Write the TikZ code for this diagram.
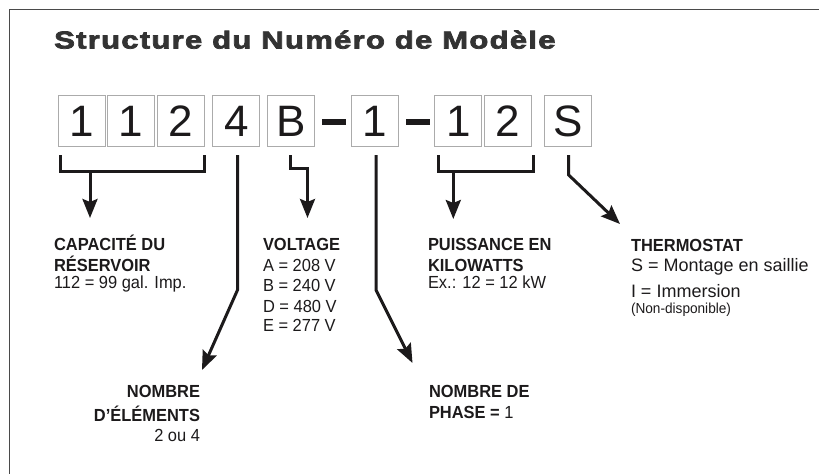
\documentclass[tikz,border=0pt]{standalone}
\usepackage{fontspec}
\setmainfont{Liberation Sans}
\newfontfamily\titlefont[FakeStretch=1.27,LetterSpace=5,FakeBold=3]{Liberation Sans Bold}
\newfontfamily\lblfont[FakeStretch=0.94]{Liberation Sans}
\usetikzlibrary{arrows.meta}
\definecolor{ink}{HTML}{1C1A1B}
\definecolor{titlegray}{HTML}{333333}
\definecolor{boxgray}{HTML}{ABABAB}
\definecolor{framegray}{HTML}{4A4A4A}
\tikzset{
  digitbox/.style={draw=boxgray, line width=1pt, minimum width=47pt, minimum height=51pt,
    inner sep=0pt, outer sep=0pt, text=ink, font=\fontsize{44}{44}\selectfont},
  lbl/.style={inner sep=0pt, outer sep=0pt, text=ink, font=\lblfont\fontsize{17.5}{19}\selectfont},
  lblb/.style={lbl, font=\lblfont\fontsize{17.5}{19}\selectfont\bfseries},
  conn/.style={draw=ink, line width=3pt, line join=miter},
  arr/.style={conn, -{Stealth[length=19pt,width=15pt,inset=3pt]}}
}
\begin{document}
\begin{tikzpicture}[x=1pt,y=-1pt]
\useasboundingbox (0,0) rectangle (819,474);
% frame
\draw[framegray, line width=1.6pt] (819,9.5) -- (9.5,9.5) -- (9.5,474);
% title
\node[anchor=base west, inner sep=0pt, text=titlegray, font=\titlefont\fontsize{24.5}{26}\selectfont] (title) at (54,48.5) {Structure du Numéro de Modèle};
% boxes
\node[digitbox] (b1) at (81.7,121.2) {1};
\node[digitbox] (b2) at (131,121.2) {1};
\node[digitbox] (b3) at (181,121.2) {2};
\node[digitbox] (b4) at (236.3,121.2) {4};
\node[digitbox] (b5) at (291.3,121.2) {B};
\node[digitbox] (b6) at (374.7,121.2) {1};
\node[digitbox] (b7) at (458.3,121.2) {1};
\node[digitbox] (b8) at (507.7,121.2) {2};
\node[digitbox] (b9) at (568,121.2) {S};
% dashes
\fill[ink] (322,119) rectangle (346,124.6);
\fill[ink] (406,119) rectangle (430,124.6);
% coordinates
\coordinate (capL) at (60,155);
\coordinate (capR) at (204,155);
\coordinate (capS) at (90,171);
\coordinate (capT) at (90,218);
\coordinate (elA) at (237.5,155);
\coordinate (elB) at (237.5,290);
\coordinate (elT) at (202,370);
\coordinate (voA) at (290,155);
\coordinate (voB) at (307.5,168.3);
\coordinate (voT) at (307.5,218);
\coordinate (phA) at (376,155);
\coordinate (phB) at (376,290);
\coordinate (phT) at (412.5,363);
\coordinate (kwL) at (438.7,155);
\coordinate (kwR) at (533.3,155);
\coordinate (kwS) at (453.3,171);
\coordinate (kwT) at (453.3,219);
\coordinate (thA) at (568.7,155);
\coordinate (thB) at (568.7,175);
\coordinate (thT) at (620,224);
% connectors
\draw[conn] (capL) -- (capL |- capS) -- (capR |- capS) -- (capR);
\draw[arr] (capS) -- (capT);
\draw[arr] (elA) -- (elB) -- (elT);
\draw[arr] (voA) -- (voA |- voB) -- (voB) -- (voT);
\draw[arr] (phA) -- (phB) -- (phT);
\draw[conn] (kwL) -- (kwL |- kwS) -- (kwR |- kwS) -- (kwR);
\draw[arr] (kwS) -- (kwT);
\draw[arr] (thA) -- (thB) -- (thT);
% labels: capacity
\node[lblb, anchor=base west] (cap1) at (54,250) {CAPACITÉ DU};
\node[lblb, anchor=base west] (cap2) at (54,271) {RÉSERVOIR};
\node[lbl, anchor=base west] (cap3) at (54,288.5) {112 = 99 gal. Imp.};
% voltage
\node[lblb, anchor=base west] (vo1) at (263,250) {VOLTAGE};
\node[lbl, anchor=base west] (vo2) at (263,271.7) {A = 208 V};
\node[lbl, anchor=base west] (vo3) at (263,291.7) {B = 240 V};
\node[lbl, anchor=base west] (vo4) at (263,312) {D = 480 V};
\node[lbl, anchor=base west] (vo5) at (263,331.7) {E = 277 V};
% power
\node[lblb, anchor=base west] (kw1) at (428,250.5) {PUISSANCE EN};
\node[lblb, anchor=base west] (kw2) at (428,271) {KILOWATTS};
\node[lbl, anchor=base west] (kw3) at (428,288) {Ex.: 12 = 12 kW};
% thermostat
\node[lblb, anchor=base west] (th1) at (631,251) {THERMOSTAT};
\node[lbl, anchor=base west, font=\fontsize{18}{20}\selectfont] (th2) at (631,271) {S = Montage en saillie};
\node[lbl, anchor=base west, font=\fontsize{18}{20}\selectfont] (th3) at (631,297.3) {I = Immersion};
\node[lbl, anchor=base west, font=\lblfont\fontsize{14.5}{16}\selectfont] (th4) at (631,313) {(Non-disponible)};
% elements
\node[lblb, anchor=base east] (el1) at (200,397.7) {NOMBRE};
\node[lblb, anchor=base east] (el2) at (200,421.7) {D’ÉLÉMENTS};
\node[lbl, anchor=base east] (el3) at (200,441.7) {2 ou 4};
% phase
\node[lblb, anchor=base west] (ph1) at (429,397.7) {NOMBRE DE};
\node[lbl, anchor=base west] (ph2) at (429,418.3) {\textbf{PHASE =} 1};
\end{tikzpicture}
\end{document}
